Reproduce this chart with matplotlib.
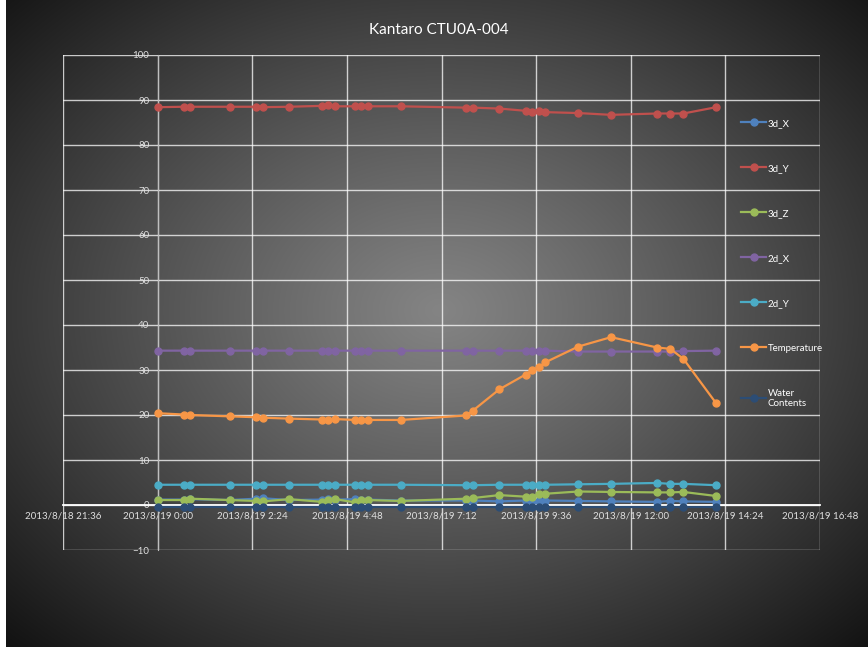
import matplotlib
matplotlib.use('Agg')
import matplotlib.pyplot as plt
import matplotlib.dates as mdates
import numpy as np
import pandas as pd
from datetime import datetime, timedelta

# Mesures du 19/08/2013
times = pd.to_datetime([
    '2013-08-19 00:00', '2013-08-19 00:40', '2013-08-19 00:50', '2013-08-19 01:50',
    '2013-08-19 02:30', '2013-08-19 02:40', '2013-08-19 03:20', '2013-08-19 04:10',
    '2013-08-19 04:20', '2013-08-19 04:30', '2013-08-19 05:00', '2013-08-19 05:10',
    '2013-08-19 05:20', '2013-08-19 06:10', '2013-08-19 07:50', '2013-08-19 08:00',
    '2013-08-19 08:40', '2013-08-19 09:20', '2013-08-19 09:30', '2013-08-19 09:40',
    '2013-08-19 09:50', '2013-08-19 10:40', '2013-08-19 11:30', '2013-08-19 12:40',
    '2013-08-19 13:00', '2013-08-19 13:20', '2013-08-19 14:10'])

d3_x = [1.2, 1.2, 1.3, 1.1, 1.4, 1.5, 1.1, 1.2, 1.3, 1.2, 1.3, 1.2, 1.2, 1.0,
        1.0, 1.0, 0.8, 1.0, 1.0, 1.0, 1.0, 0.9, 0.8, 0.7, 0.9, 0.8, 0.7]
d3_y = [88.4, 88.5, 88.5, 88.5, 88.5, 88.4, 88.5, 88.7, 88.8, 88.6, 88.6, 88.6,
        88.6, 88.6, 88.3, 88.3, 88.1, 87.6, 87.4, 87.6, 87.3, 87.1, 86.7, 87.0,
        87.0, 87.0, 88.4]
d3_z = [1.1, 1.1, 1.4, 1.1, 0.9, 0.8, 1.3, 0.7, 1.1, 1.3, 0.6, 1.1, 1.1, 0.9,
        1.4, 1.55, 2.2, 1.85, 1.85, 2.4, 2.5, 3.0, 2.9, 2.8, 2.8, 2.9, 2.0]
d2_x = [34.3, 34.3, 34.3, 34.3, 34.3, 34.3, 34.3, 34.3, 34.3, 34.3, 34.3, 34.3,
        34.3, 34.3, 34.3, 34.3, 34.3, 34.3, 34.3, 34.3, 34.3, 34.1, 34.1, 34.1,
        34.1, 34.2, 34.3]
d2_y = [4.5, 4.5, 4.5, 4.5, 4.5, 4.5, 4.5, 4.5, 4.5, 4.5, 4.5, 4.5, 4.5, 4.5,
        4.4, 4.4, 4.5, 4.5, 4.5, 4.5, 4.5, 4.6, 4.7, 4.9, 4.7, 4.7, 4.4]
temperature = [20.4, 20.1, 20.0, 19.7, 19.5, 19.4, 19.2, 19.0, 19.0, 19.1, 18.9,
               18.8, 18.9, 18.9, 19.9, 21.0, 25.7, 29.0, 29.9, 30.6, 31.7, 35.2,
               37.3, 35.0, 34.7, 32.5, 22.6]
water = [-0.4] * 27

series = [
    ('3d_X', d3_x, '#4F81BD'),
    ('3d_Y', d3_y, '#C0504D'),
    ('3d_Z', d3_z, '#9BBB59'),
    ('2d_X', d2_x, '#8064A2'),
    ('2d_Y', d2_y, '#4BACC6'),
    ('Temperature', temperature, '#F79646'),
    ('Water\nContents', water, '#2C4D75'),
]

W, H = 868, 654
fig = plt.figure(figsize=(W / 100, H / 100), dpi=100, facecolor='white')
plt.rcParams['font.family'] = ['Lato', 'DejaVu Sans']

# Fond en dégradé radial (style Excel)
bg = fig.add_axes([0, 0, 1, 1], zorder=-1)
bg.set_axis_off()
yy, xx = np.mgrid[0:H, 0:W]
r = np.sqrt(((xx - 440) / 620.0) ** 2 + ((yy - 310) / 470.0) ** 2)
r = np.clip(r, 0, 1)
val = (0x84 - (0x84 - 0x12) * r ** 1.1) / 255.0
img = np.dstack([val, val, val])
img[:, :6] = 1.0
img[647:, :] = 1.0
bg.imshow(img, extent=[0, 1, 0, 1], aspect='auto', interpolation='bilinear')
bg.set_xlim(0, 1)
bg.set_ylim(0, 1)

ax = fig.add_axes([63 / W, 1 - 550 / H, (820 - 63) / W, (550 - 55) / H])
ax.set_facecolor('none')

for name, vals, color in series:
    ax.plot(times, vals, color=color, linewidth=1.6, marker='o',
            markersize=5, label=name, zorder=3)

x_start = datetime(2013, 8, 18, 21, 36)
step = timedelta(hours=2, minutes=24)
xticks = [x_start + i * step for i in range(9)]
ax.set_xlim(xticks[0], xticks[-1])
ax.set_ylim(-10, 100)
ax.set_xticks(xticks)
ax.set_yticks(range(-10, 101, 10))
ax.xaxis.set_major_formatter(plt.FuncFormatter(
    lambda v, p: (lambda d: f'{d.year}/{d.month}/{d.day} {d.hour}:{d.minute:02d}')(
        mdates.num2date(v))))

ax.grid(True, color='white', alpha=0.75, linewidth=1)
ax.set_axisbelow(True)

# Axes croisés à 0 et au 19/08 0:00
ax.spines['bottom'].set_position(('data', 0))
ax.spines['bottom'].set_color('white')
ax.spines['bottom'].set_linewidth(1.3)
ax.spines['left'].set_position(('data', mdates.date2num(datetime(2013, 8, 19))))
ax.spines['left'].set_color('#bfbfbf')
ax.spines['top'].set_visible(False)
ax.spines['right'].set_visible(False)
ax.tick_params(length=0, colors='#e0e0e0', labelsize=7)
ax.tick_params(axis='x', pad=5)
ax.tick_params(axis='y', pad=6)

fig.text(0.505, 1 - 30 / H, 'Kantaro CTU0A-004', ha='center', va='center',
         color='white', fontsize=11)

leg = ax.legend(loc='upper left', bbox_to_anchor=(736 / W, 1 - 114 / H),
                bbox_transform=fig.transFigure, frameon=False, fontsize=7,
                labelcolor='white', labelspacing=3.7, handlelength=2.6,
                handletextpad=0.15, borderpad=0)

fig.savefig('out.png', dpi=100)
